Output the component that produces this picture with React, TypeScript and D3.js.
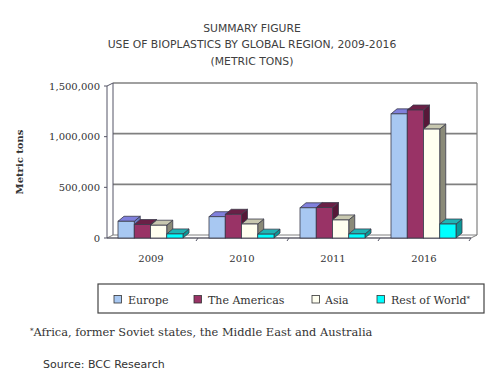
import React from "react";
import * as d3 from "d3";

const categories = ["2009", "2010", "2011", "2016"];
const seriesNames = ["Europe", "The Americas", "Asia", "Rest of World"];
const europe = [165000, 210000, 298000, 1225000];
const americas = [133000, 234000, 300000, 1263000];
const asia = [126000, 138000, 178000, 1075000];
const restOfWorld = [40000, 38000, 40000, 138000];
const yTicks = [0, 500000, 1000000, 1500000];
const titleLines = ["SUMMARY FIGURE", "USE OF BIOPLASTICS BY GLOBAL REGION, 2009-2016", "(METRIC TONS)"];

const seriesValues = [europe, americas, asia, restOfWorld];
const faceColors = [
  { front: "#a8c8f2", top: "#8080dc", side: "#6a78c0" },
  { front: "#993366", top: "#6a2046", side: "#561838" },
  { front: "#fffff0", top: "#c8c8b0", side: "#8a8a78" },
  { front: "#00ffff", top: "#1fb4b4", side: "#0a9898" },
];

const W = 499, H = 380;
const X0 = 107, X1 = 471, Y0 = 238, YTOP = 86;
const WDX = 6, WDY = 3; // wall depth
const BDX = 6, BDY = 5; // bar depth
const legendSwatchX = [114, 194, 312, 377];
const legendTextX = [128, 208, 325, 391];

export default function App() {
  const y = d3.scaleLinear().domain([0, 1500000]).range([Y0, YTOP]);
  const xb = d3.scaleBand<string>().domain(categories).range([X0, X1]);
  const xs = d3.scaleBand<string>().domain(seriesNames).range([11, 76]);
  const fmt = d3.format(",");
  const serif = "'DejaVu Serif', serif";
  const sans = "'DejaVu Sans', sans-serif";
  const stroke = "#3a3a4a";

  const bars: React.ReactNode[] = [];
  categories.forEach((c, ci) => {
    seriesNames.forEach((s, si) => {
      const v = seriesValues[si][ci];
      const x = (xb(c) as number) + (xs(s) as number);
      const w = xs.bandwidth();
      const yv = y(v);
      const col = faceColors[si];
      const top = `${x},${yv} ${x + BDX},${yv - BDY} ${x + w + BDX},${yv - BDY} ${x + w},${yv}`;
      const side = `${x + w},${yv} ${x + w + BDX},${yv - BDY} ${x + w + BDX},${Y0 - BDY} ${x + w},${Y0}`;
      bars.push(
        <g key={c + s}>
          <polygon points={side} fill={col.side} stroke={stroke} strokeWidth={0.8} />
          <polygon points={top} fill={col.top} stroke={stroke} strokeWidth={0.8} />
          <rect x={x} y={yv} width={w} height={Y0 - yv} fill={col.front} stroke={stroke} strokeWidth={0.8} />
        </g>
      );
    });
  });

  return (
    <svg width={W} height={H} style={{ position: "absolute", left: 0, top: 0, background: "#fff" }}>
      {titleLines.map((t, i) => (
        <text key={t} x={252} y={31.5 + i * 16.8} textAnchor="middle" fontFamily={sans} fontSize={10.8} fill="#404040">
          {t}
        </text>
      ))}
      {yTicks.filter((t) => t > 0).map((t) => (
        <line key={t} x1={X0 + WDX} x2={X1 + WDX} y1={y(t) - WDY} y2={y(t) - WDY} stroke="#808080" strokeWidth={1.6} />
      ))}
      <line x1={X0 + WDX} x2={X0 + WDX} y1={YTOP - WDY} y2={Y0 - WDY} stroke="#555566" strokeWidth={1} />
      <line x1={X1 + WDX} x2={X1 + WDX} y1={YTOP - WDY} y2={Y0 - WDY} stroke="#808080" strokeWidth={1.2} />
      <polygon
        points={`${X0},${Y0} ${X1},${Y0} ${X1 + WDX},${Y0 - WDY} ${X0 + WDX},${Y0 - WDY}`}
        fill="#fff"
        stroke="#808080"
        strokeWidth={1}
      />
      <line x1={X0} x2={X0 + WDX} y1={YTOP} y2={YTOP - WDY} stroke="#555566" strokeWidth={1} />
      <line x1={X0} x2={X0} y1={YTOP} y2={Y0} stroke="#555566" strokeWidth={1} />
      {yTicks.map((t) => (
        <g key={t}>
          <line x1={X0 - 3} x2={X0} y1={y(t)} y2={y(t)} stroke="#555566" />
          <text x={100} y={y(t) + 3.5} textAnchor="end" fontFamily={serif} fontSize={10} fill="#333">
            {fmt(t)}
          </text>
        </g>
      ))}
      <line x1={X0} x2={X1} y1={Y0} y2={Y0} stroke="#555566" strokeWidth={1} />
      {categories.map((c) => (
        <line key={c} x1={(xb(c) as number) + xb.bandwidth()} x2={(xb(c) as number) + xb.bandwidth() - 2} y1={Y0} y2={Y0 + 3} stroke="#555566" />
      ))}
      {bars}
      {categories.map((c) => (
        <text key={c} x={(xb(c) as number) + 44} y={262} textAnchor="middle" fontFamily={serif} fontSize={10} fill="#333">
          {c}
        </text>
      ))}
      <text transform={`translate(23,162) rotate(-90)`} textAnchor="middle" fontFamily={serif} fontSize={10} fontWeight="bold" fill="#333">
        Metric tons
      </text>
      <rect x={98} y={284} width={386} height={29} fill="#fff" stroke="#444" strokeWidth={1.2} />
      {seriesNames.map((s, i) => (
        <g key={s}>
          <rect x={legendSwatchX[i]} y={295.5} width={7.5} height={7.5} fill={faceColors[i].front} stroke="#333" strokeWidth={0.8} />
          <text x={legendTextX[i]} y={303.5} fontFamily={serif} fontSize={11} fill="#333">
            {s}
            {i === 3 ? <tspan fontSize={7} dy={-3}>*</tspan> : null}
          </text>
        </g>
      ))}
      <text x={30} y={336} fontFamily={serif} fontSize={11.4} fill="#333">
        <tspan fontSize={7} dy={-3}>*</tspan>
        <tspan dy={3}>Africa, former Soviet states, the Middle East and Australia</tspan>
      </text>
      <text x={43} y={367.5} fontFamily={sans} fontSize={11} fill="#333">
        Source: BCC Research
      </text>
    </svg>
  );
}
